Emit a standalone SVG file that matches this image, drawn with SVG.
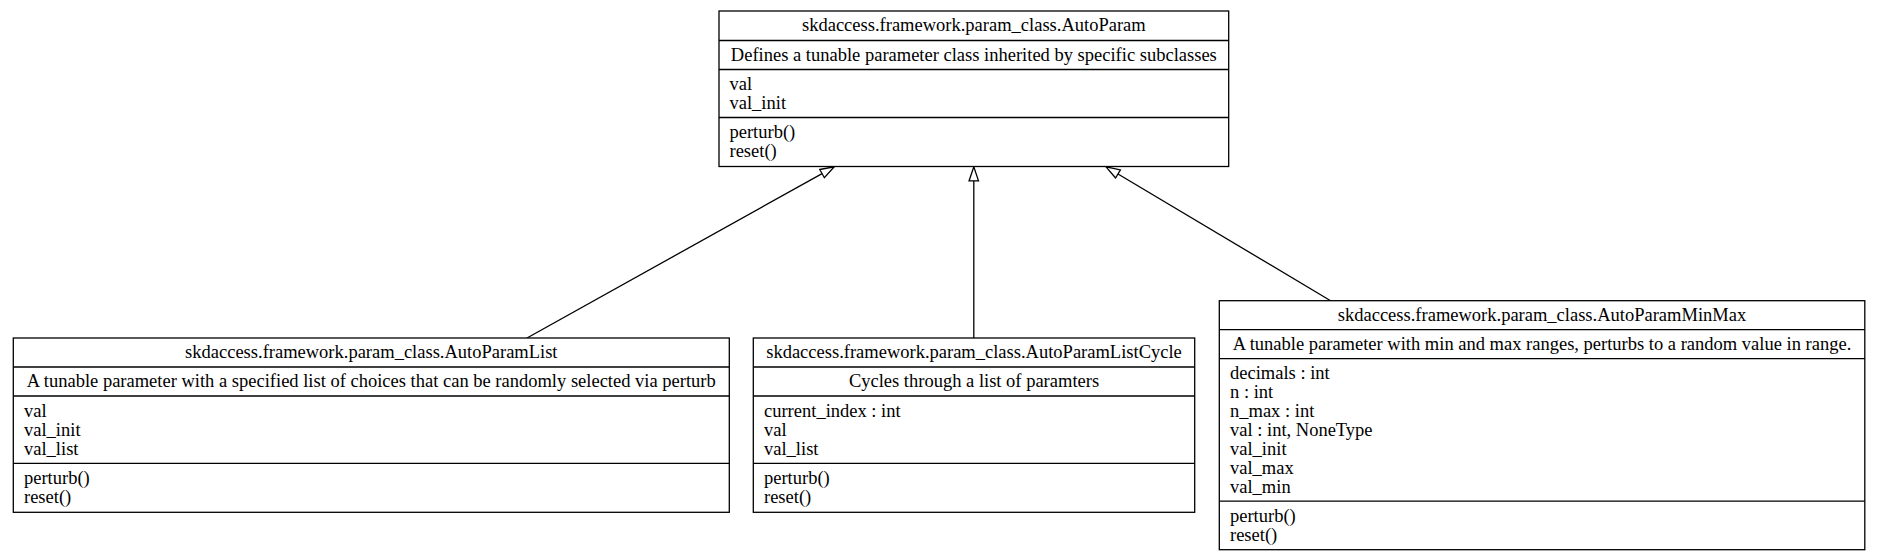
<svg xmlns="http://www.w3.org/2000/svg" width="1878" height="556" viewBox="0 0 1878 556">
<style>
  .box { fill: #ffffff; stroke: #000000; stroke-width: 1.3; }
  .div { stroke: #000000; stroke-width: 1.3; fill: none; }
  .t { font-family: "Liberation Serif", "Times New Roman", serif; font-size: 18.5px; fill: #000000; }
  .c { text-anchor: middle; }
  .edge { stroke: #000000; stroke-width: 1.3; fill: none; marker-end: url(#empty); }
</style>
<defs>
  <marker id="empty" markerUnits="userSpaceOnUse" viewBox="-1 -6 16 12" markerWidth="16" markerHeight="12" refX="0" refY="0" orient="auto" overflow="visible">
    <path d="M0,-4.7 L14,0 L0,4.7 Z" fill="#ffffff" stroke="#000000" stroke-width="1.3"/>
  </marker>
</defs>
<rect width="1878" height="556" fill="#ffffff"/>

<g id="edges">
  <path class="edge" d="M527,338 L822.07,173.61"/>
  <path class="edge" d="M973.8,338 L973.8,180.8"/>
  <path class="edge" d="M1330.6,300.7 L1118.02,173.97"/>
</g>

<g id="AutoParam">
  <rect class="box" x="719" y="11" width="509.7" height="155.5"/>
  <line class="div" x1="719" y1="40.5" x2="1228.7" y2="40.5"/>
  <line class="div" x1="719" y1="69.5" x2="1228.7" y2="69.5"/>
  <line class="div" x1="719" y1="117.5" x2="1228.7" y2="117.5"/>
  <text class="t c" x="973.85" y="31">skdaccess.framework.param_class.AutoParam</text>
  <text class="t c" x="973.85" y="61">Defines a tunable parameter class inherited by specific subclasses</text>
  <text class="t" x="729.5" y="90">val</text>
  <text class="t" x="729.5" y="109">val_init</text>
  <text class="t" x="729.5" y="138">perturb()</text>
  <text class="t" x="729.5" y="157">reset()</text>
</g>

<g id="AutoParamList">
  <rect class="box" x="13.3" y="338" width="716" height="174.3"/>
  <line class="div" x1="13.3" y1="367" x2="729.3" y2="367"/>
  <line class="div" x1="13.3" y1="396" x2="729.3" y2="396"/>
  <line class="div" x1="13.3" y1="463.3" x2="729.3" y2="463.3"/>
  <text class="t c" x="371.3" y="358">skdaccess.framework.param_class.AutoParamList</text>
  <text class="t c" x="371.3" y="387">A tunable parameter with a specified list of choices that can be randomly selected via perturb</text>
  <text class="t" x="24" y="416.5">val</text>
  <text class="t" x="24" y="435.5">val_init</text>
  <text class="t" x="24" y="454.5">val_list</text>
  <text class="t" x="24" y="484">perturb()</text>
  <text class="t" x="24" y="503">reset()</text>
</g>

<g id="AutoParamListCycle">
  <rect class="box" x="753.3" y="338" width="441.4" height="174.3"/>
  <line class="div" x1="753.3" y1="367" x2="1194.7" y2="367"/>
  <line class="div" x1="753.3" y1="396" x2="1194.7" y2="396"/>
  <line class="div" x1="753.3" y1="463.3" x2="1194.7" y2="463.3"/>
  <text class="t c" x="974" y="358">skdaccess.framework.param_class.AutoParamListCycle</text>
  <text class="t c" x="974" y="387">Cycles through a list of paramters</text>
  <text class="t" x="764" y="416.5">current_index : int</text>
  <text class="t" x="764" y="435.5">val</text>
  <text class="t" x="764" y="454.5">val_list</text>
  <text class="t" x="764" y="484">perturb()</text>
  <text class="t" x="764" y="503">reset()</text>
</g>

<g id="AutoParamMinMax">
  <rect class="box" x="1219.3" y="300.7" width="645.5" height="249"/>
  <line class="div" x1="1219.3" y1="329.7" x2="1864.8" y2="329.7"/>
  <line class="div" x1="1219.3" y1="358.7" x2="1864.8" y2="358.7"/>
  <line class="div" x1="1219.3" y1="501.2" x2="1864.8" y2="501.2"/>
  <text class="t c" x="1542" y="320.7">skdaccess.framework.param_class.AutoParamMinMax</text>
  <text class="t c" x="1542" y="349.7">A tunable parameter with min and max ranges, perturbs to a random value in range.</text>
  <text class="t" x="1230" y="379.2">decimals : int</text>
  <text class="t" x="1230" y="398.2">n : int</text>
  <text class="t" x="1230" y="417.2">n_max : int</text>
  <text class="t" x="1230" y="436.2">val : int, NoneType</text>
  <text class="t" x="1230" y="455.2">val_init</text>
  <text class="t" x="1230" y="474.2">val_max</text>
  <text class="t" x="1230" y="493.2">val_min</text>
  <text class="t" x="1230" y="522">perturb()</text>
  <text class="t" x="1230" y="541">reset()</text>
</g>
</svg>
